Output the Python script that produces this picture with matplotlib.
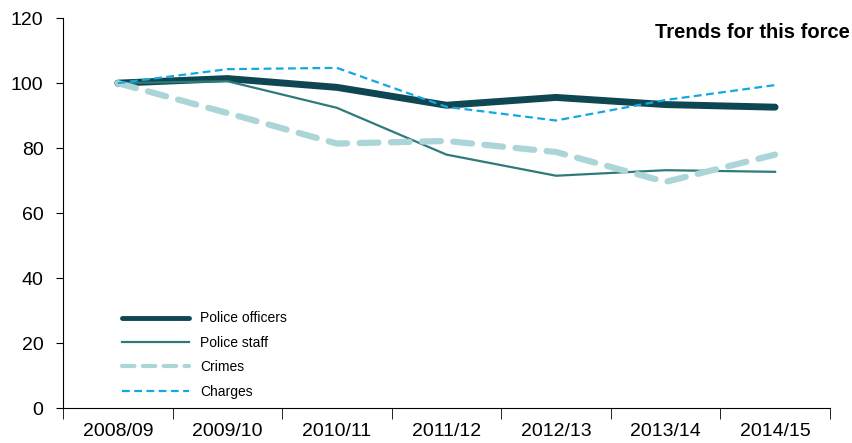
import numpy as np
import matplotlib.pyplot as plt

plt.rcParams['font.family'] = ['Liberation Sans', 'DejaVu Sans']

# Data (index, 2008/09 = 100)
years = ['2008/09', '2009/10', '2010/11', '2011/12', '2012/13', '2013/14', '2014/15']
officers = [100, 101.4, 98.7, 93.2, 95.6, 93.4, 92.6]
staff = [100, 100.6, 92.4, 78.0, 71.5, 73.2, 72.7]
crimes = [100, 90.8, 81.4, 82.2, 78.8, 69.6, 78.0]
charges = [100, 104.3, 104.7, 92.7, 88.5, 94.8, 99.4]

fig = plt.figure(figsize=(8.52, 4.43), dpi=100)
ax = fig.add_axes([0.074, 0.079, 0.9, 0.88])

x = np.arange(len(years))
ax.plot(x, officers, color='#0e4751', lw=5, solid_capstyle='round', label='Police officers')
ax.plot(x, staff, color='#2f7b7b', lw=1.6, label='Police staff')
ax.plot(x, crimes, color='#acd5d8', lw=4.5, dashes=(3, 2), dash_capstyle='round', label='Crimes')
ax.plot(x, charges, color='#13a8e0', lw=1.6, dashes=(3.5, 2), label='Charges')

ax.set_xlim(-0.5, len(years) - 0.5)
ax.set_ylim(0, 120)
ax.set_yticks(range(0, 121, 20))
ax.set_xticks(x)
ax.set_xticklabels(years)
ax.set_xticks(np.arange(-0.5, len(years)), minor=True)
ax.tick_params(axis='x', which='major', length=0, labelsize=14, pad=11)
ax.tick_params(axis='x', which='minor', length=8, direction='out')
ax.tick_params(axis='y', length=5, labelsize=14, pad=9)
ax.spines['top'].set_visible(False)
ax.spines['right'].set_visible(False)

fig.text(0.998, 0.927, 'Trends for this force', ha='right', va='center',
         fontsize=14.5, fontweight='bold')

leg = ax.legend(loc='lower left', bbox_to_anchor=(0.061, -0.008), frameon=False,
                fontsize=10, handlelength=4.8, labelspacing=0.75, handletextpad=0.8)
# thinner handles in the legend, like the original
for h, w in zip(leg.get_lines(), [3.5, 1.6, 3, 1.6]):
    h.set_linewidth(w)

plt.savefig('out.png', dpi=100)
